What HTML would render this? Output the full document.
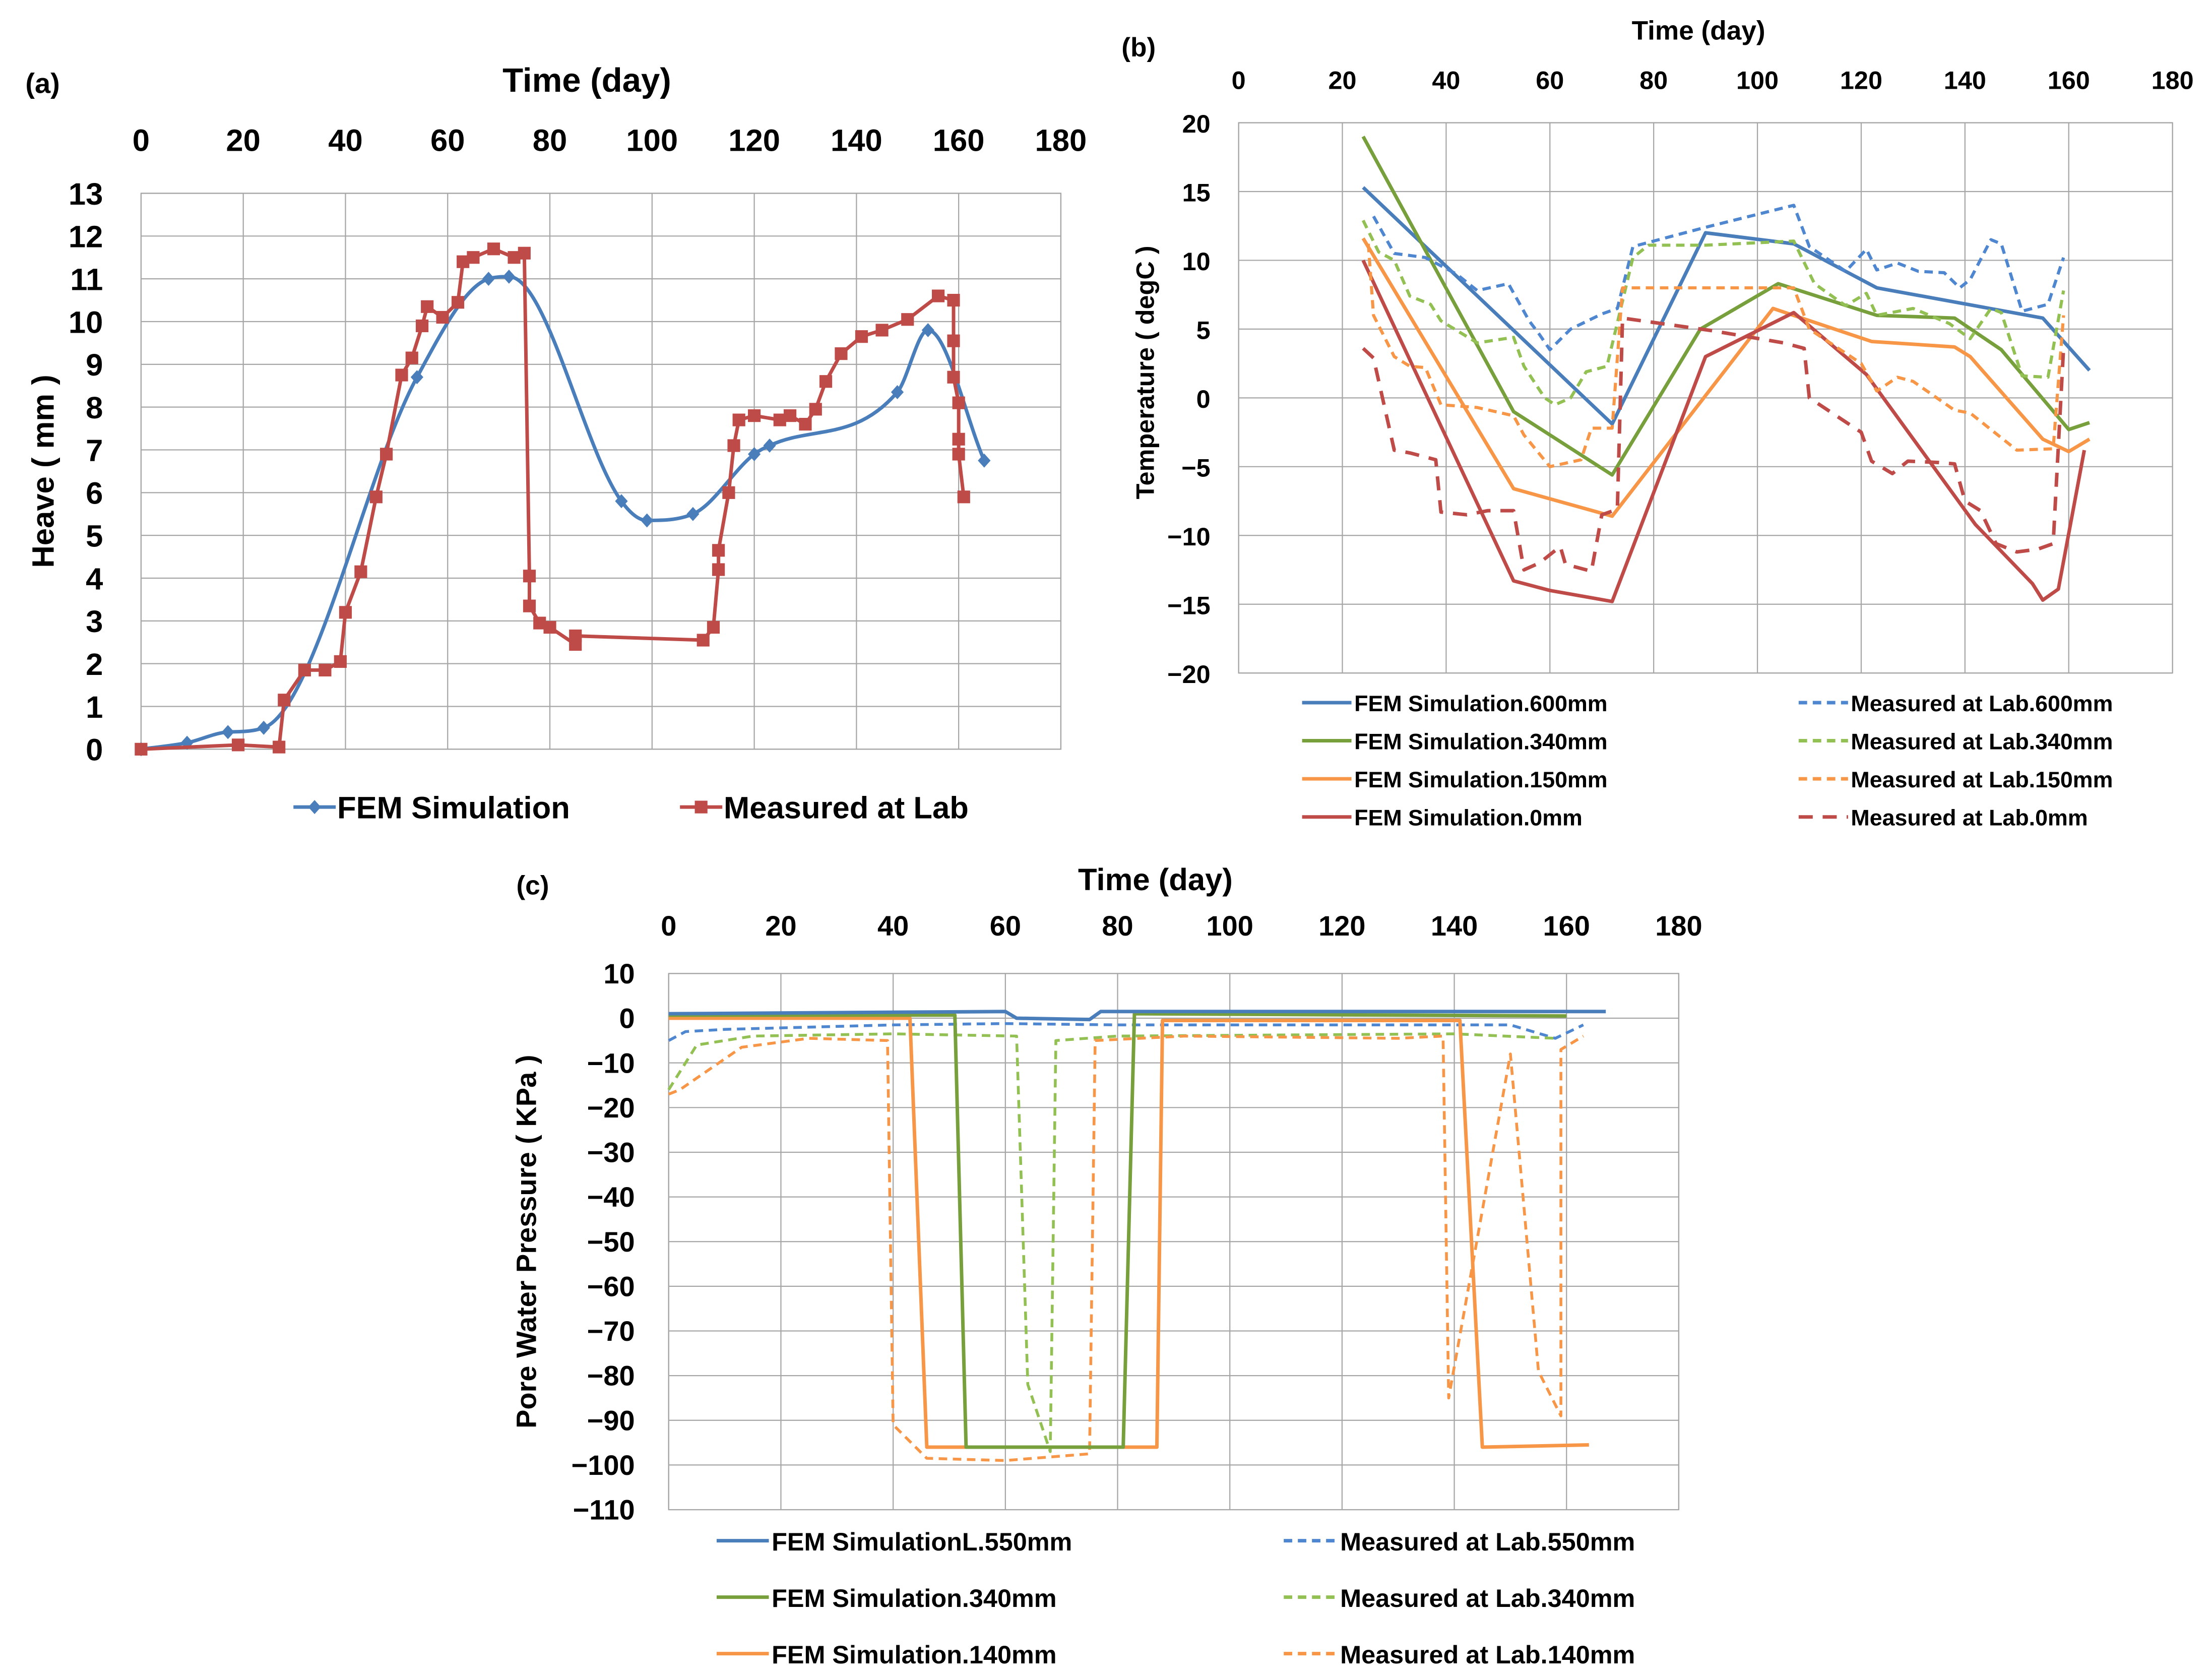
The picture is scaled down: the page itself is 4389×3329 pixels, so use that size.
<!DOCTYPE html>
<html><head><meta charset="utf-8"><style>
html,body{margin:0;padding:0;background:#fff}
svg{display:block;font-family:"Liberation Sans",sans-serif;font-weight:bold}
</style></head><body>
<svg id="fig" width="4389" height="3329" viewBox="0 0 1568 1189.3" preserveAspectRatio="none" xmlns="http://www.w3.org/2000/svg"></svg>
<script>
// ---------- Panel (a) data ----------
const aFemX=[0,9,17,24,54,68,72,94,99,108,120,123,148,154,165];
const aFemY=[0,0.15,0.4,0.5,8.7,11,11.05,5.8,5.35,5.5,6.9,7.1,8.35,9.8,6.75];
const aMeasX=[0,19,27,28,32,36,39,40,43,46,48,51,53,55,56,59,62,63,65,69,73,75,76,76,78,80,85,85,110,112,113,113,115,116,117,120,125,127,130,132,134,137,141,145,150,156,159,159,159,160,160,160,161];
const aMeasY=[0,0.1,0.05,1.15,1.85,1.85,2.05,3.2,4.15,5.9,6.9,8.75,9.15,9.9,10.35,10.1,10.45,11.4,11.5,11.7,11.5,11.6,4.05,3.35,2.95,2.85,2.45,2.65,2.55,2.85,4.2,4.65,6,7.1,7.7,7.8,7.7,7.8,7.6,7.95,8.6,9.25,9.65,9.8,10.05,10.6,10.5,9.55,8.7,8.1,7.25,6.9,5.9];
const aXTicks=[0,20,40,60,80,100,120,140,160,180];
const aYTicks=[0,1,2,3,4,5,6,7,8,9,10,11,12,13];
// ---------- Panel (b) data ----------
const bF600X=[24,72,90,107,123,155,164], bF600Y=[15.3,-1.9,12,11.2,8,5.8,2];
const bF340X=[24,53,72,89,104,123,138,147,160,164], bF340Y=[19,-1,-5.6,5,8.3,6,5.8,3.5,-2.3,-1.8];
const bF150X=[24,53,72,103,122,138,141,155,160,164], bF150Y=[11.6,-6.6,-8.6,6.5,4.1,3.7,3,-3,-3.9,-3];
const bF0X=[24,53,60,72,90,107,121,142,153,155,158,163], bF0Y=[10,-13.3,-14,-14.8,3,6.2,1.7,-9.2,-13.5,-14.7,-13.9,-3.8];
const bM600X=[26,30,36,42,46,52,56,58,60,64,70,73,76,90,107,110,117,121,123,127,131,136,139,141,145,147,151,156,159];
const bM600Y=[13.2,10.5,10.2,9,7.8,8.3,5.6,4.6,3.5,5,6.1,6.5,11,12.4,14,11,9.2,10.8,9.3,9.8,9.2,9.1,8,8.6,11.5,11.2,6.3,6.8,10.2];
const bM340X=[24,27,30,33,37,39,46,53,55,59,61,64,67,71,76,79,90,107,111,117,121,123,130,137,141,145,147,151,156,159];
const bM340Y=[12.9,10.6,10,7.4,6.8,5.6,4,4.4,2.3,0,-0.5,0,1.9,2.3,10.2,11.1,11.1,11.4,8.3,6.7,7.6,6,6.5,5.4,4.3,6.5,6.2,1.6,1.5,7.8];
const bM150X=[25,26,30,33,36,39,46,53,55,60,66,68,72,74,107,110,120,123,127,130,138,141,150,157,159];
const bM150Y=[11.2,6,3,2.3,2.2,-0.5,-0.7,-1.3,-2.7,-5,-4.5,-2.2,-2.2,8,8,5,2.5,0.5,1.5,1.2,-0.9,-1.1,-3.8,-3.7,6];
const bM0X=[24,26,30,33,38,39,44,48,53,55,58,62,63,68,70,73,74,91,105,109,110,120,122,126,129,135,138,140,143,146,150,154,157,159];
const bM0Y=[3.6,2.9,-3.8,-4,-4.5,-8.3,-8.5,-8.2,-8.2,-12.5,-12,-10.8,-12.1,-12.6,-8.5,-8.1,5.8,4.9,4,3.6,0,-2.5,-4.6,-5.5,-4.6,-4.7,-4.8,-7.5,-8.2,-10.6,-11.2,-11,-10.6,3.6];
const bXTicks=[0,20,40,60,80,100,120,140,160,180];
const bYTicks=[20,15,10,5,0,-5,-10,-15,-20];
// ---------- Panel (c) data ----------
const cF550X=[0,60,62,75,77,167], cF550Y=[1,1.5,0,-0.3,1.5,1.5];
const cF340X=[0,51,53,81,83,160], cF340Y=[0.7,0.7,-96,-96,1,0.5];
const cF140X=[0,43,46,87,88,141,145,164], cF140Y=[0,0,-96,-96,-0.5,-0.5,-96,-95.5];
const cM550X=[0,3,10,40,60,80,150,158,163], cM550Y=[-5,-3,-2.5,-1.5,-1.2,-1.5,-1.5,-4.5,-1.5];
const cM340X=[0,5,15,40,62,64,68,69,80,140,158], cM340Y=[-16,-6,-4,-3.5,-4,-82,-97,-5,-4,-3.5,-4.5];
const cM140X=[0,2,13,25,39,40,46,60,75,76,92,130,138,139,150,155,159,159,163];
const cM140Y=[-17,-16,-6.5,-4.5,-5,-91,-98.5,-99,-97.5,-5,-4,-4.5,-4,-85,-8,-79,-89,-7,-4];
const cXTicks=[0,20,40,60,80,100,120,140,160,180];
const cYTicks=[10,0,-10,-20,-30,-40,-50,-60,-70,-80,-90,-100,-110];

const NS="http://www.w3.org/2000/svg";
const svg=document.getElementById('fig');
function mk(tag,attrs,parent){const e=document.createElementNS(NS,tag);for(const k in attrs)e.setAttribute(k,attrs[k]);(parent||svg).appendChild(e);return e;}
function txt(s,x,y,size,anchor,parent,extra){const t=mk('text',Object.assign({x:x,y:y,'font-size':size,'text-anchor':anchor||'middle',fill:'#000'},extra||{}),parent);t.textContent=s;return t;}
function axis(x0,x1,xmin,xmax,y0,y1,ymin,ymax){return {sx:v=>x0+(v-xmin)/(xmax-xmin)*(x1-x0), sy:v=>y1-(v-ymin)/(ymax-ymin)*(y1-y0)};}
function grid(g,ax,xt,yt,x0,x1,y0,y1){
  const gr=mk('g',{},g);
  
  
  xt.forEach(v=>mk('line',{x1:ax.sx(v),x2:ax.sx(v),y1:y0,y2:y1,stroke:'#a6a6a6','stroke-width':0.8},gr));
  yt.forEach(v=>mk('line',{x1:x0,x2:x1,y1:ax.sy(v),y2:ax.sy(v),stroke:'#a6a6a6','stroke-width':0.8},gr));
  mk('rect',{x:x0,y:y0,width:x1-x0,height:y1-y0,fill:'none',stroke:'#a6a6a6','stroke-width':0.8},gr);
}
function pts(ax,X,Y){return X.map((x,i)=>[ax.sx(x),ax.sy(Y[i])]);}
function poly(g,ax,X,Y,color,w,dash,name){
  const p=mk('polyline',{points:pts(ax,X,Y).map(q=>q.join(',')).join(' '),fill:'none',stroke:color,'stroke-width':w,'stroke-linejoin':'round','stroke-dasharray':dash||'none'},g);
  
  
  return p;
}
// monotone cubic (Fritsch-Carlson) to avoid overshoot
function smooth(P){
  const n=P.length,d=[],m=[];
  for(let i=0;i<n-1;i++)d.push((P[i+1][1]-P[i][1])/(P[i+1][0]-P[i][0]));
  m[0]=d[0];m[n-1]=d[n-2];
  for(let i=1;i<n-1;i++){m[i]=(d[i-1]*d[i]<=0)?0:(d[i-1]+d[i])/2;}
  for(let i=0;i<n-1;i++){if(d[i]===0){m[i]=0;m[i+1]=0;continue;}const a=m[i]/d[i],b=m[i+1]/d[i],s=a*a+b*b;if(s>9){const t=3/Math.sqrt(s);m[i]=t*a*d[i];m[i+1]=t*b*d[i];}}
  let s='M'+P[0][0]+','+P[0][1];
  for(let i=0;i<n-1;i++){const h=(P[i+1][0]-P[i][0])/3;s+=` C${P[i][0]+h},${P[i][1]+m[i]*h} ${P[i+1][0]-h},${P[i+1][1]-m[i+1]*h} ${P[i+1][0]},${P[i+1][1]}`;}
  return s;
}

// ===== Panel A =====
const gA=mk('g',{});


const A=axis(100,752,0,180,137,531,0,13);
grid(gA,A,aXTicks,aYTicks,100,752,137,531);
txt('(a)',18,66,20,'start',gA);
txt('Time (day)',416,65,24,'middle',gA);
aXTicks.forEach(v=>{const t=txt(String(v),A.sx(v),107,22,'middle',gA);});
aYTicks.forEach(v=>{const t=txt(String(v),73,A.sy(v)+8,22,'end',gA);});
const aYT=txt('Heave ( mm )',0,0,22,'middle',gA,{transform:'translate(38,334) rotate(-90)'});

const femPath=mk('path',{d:smooth(pts(A,aFemX,aFemY)),fill:'none',stroke:'#4a7ebb','stroke-width':2.5},gA);


pts(A,aFemX,aFemY).forEach(p=>{const m=mk('path',{d:`M${p[0]},${p[1]-5}L${p[0]+4.5},${p[1]}L${p[0]},${p[1]+5}L${p[0]-4.5},${p[1]}Z`,fill:'#4a7ebb'},gA);});
poly(gA,A,aMeasX,aMeasY,'#be4b48',2.5,null,'measured-at-lab-line');
pts(A,aMeasX,aMeasY).forEach(p=>{const m=mk('rect',{x:p[0]-4.5,y:p[1]-4.5,width:9,height:9,fill:'#be4b48'},gA);});
const lA=mk('g',{},gA);


mk('line',{x1:208,x2:238,y1:572,y2:572,stroke:'#4a7ebb','stroke-width':2.5},lA);
mk('path',{d:'M223,567L227.5,572L223,577L218.5,572Z',fill:'#4a7ebb'},lA);
txt('FEM Simulation',239,580,22,'start',lA);
mk('line',{x1:482,x2:512,y1:572,y2:572,stroke:'#be4b48','stroke-width':2.5},lA);
mk('rect',{x:492.5,y:567.5,width:9,height:9,fill:'#be4b48'},lA);
txt('Measured at Lab',513,580,22,'start',lA);

// ===== Panel B =====
const gB=mk('g',{});


const B=axis(878,1540,0,180,87,477,-20,20);
grid(gB,B,bXTicks,bYTicks,878,1540,87,477);
txt('(b)',795,40,19,'start',gB);
txt('Time (day)',1204,28,19,'middle',gB);
bXTicks.forEach(v=>{const t=txt(String(v),B.sx(v),63,18,'middle',gB);});
bYTicks.forEach(v=>{const t=txt(v<0?'\u2212'+(-v):String(v),858,B.sy(v)+7,18,'end',gB);});
const bYT=txt('Temperature ( degC )',0,0,18,'middle',gB,{transform:'translate(818,264) rotate(-90)'});

const cBlue='#4a7ebb',cGreen='#77a03c',cOr='#f79646',cRed='#be4b48';
const cBlueL='#4f86d0',cGreenL='#92c052';
poly(gB,B,bF600X,bF600Y,cBlue,2.5,null,'fem-600mm-line');
poly(gB,B,bF340X,bF340Y,cGreen,2.5,null,'fem-340mm-line');
poly(gB,B,bF150X,bF150Y,cOr,2.5,null,'fem-150mm-line');
poly(gB,B,bF0X,bF0Y,cRed,2.5,null,'fem-0mm-line');
poly(gB,B,bM600X,bM600Y,cBlueL,2.2,'6,4','measured-600mm-line');
poly(gB,B,bM340X,bM340Y,cGreenL,2.2,'6,4','measured-340mm-line');
poly(gB,B,bM150X,bM150Y,cOr,2.2,'6,4','measured-150mm-line');
poly(gB,B,bM0X,bM0Y,cRed,2.5,'10,7','measured-0mm-line');
const lB=mk('g',{},gB);


[['FEM Simulation.600mm',cBlue,null],['FEM Simulation.340mm',cGreen,null],['FEM Simulation.150mm',cOr,null],['FEM Simulation.0mm',cRed,null]].forEach((e,i)=>{const y=498+i*27;mk('line',{x1:923,x2:958,y1:y,y2:y,stroke:e[1],'stroke-width':2.5},lB);const t=txt(e[0],960,y+6,16,'start',lB);});
[['Measured at Lab.600mm',cBlueL,'6,4'],['Measured at Lab.340mm',cGreenL,'6,4'],['Measured at Lab.150mm',cOr,'6,4'],['Measured at Lab.0mm',cRed,'10,7']].forEach((e,i)=>{const y=498+i*27;mk('line',{x1:1275,x2:1310,y1:y,y2:y,stroke:e[1],'stroke-width':2.5,'stroke-dasharray':e[2]},lB);const t=txt(e[0],1312,y+6,16,'start',lB);});

// ===== Panel C =====
const gC=mk('g',{});


const C=axis(474,1190,0,180,690,1070,-110,10);
grid(gC,C,cXTicks,cYTicks,474,1190,690,1070);
txt('(c)',366,634,19,'start',gC);
txt('Time (day)',819,631,22,'middle',gC);
cXTicks.forEach(v=>{const t=txt(String(v),C.sx(v),663,20,'middle',gC);});
cYTicks.forEach(v=>{const t=txt(v<0?'\u2212'+(-v):String(v),450,C.sy(v)+7,20,'end',gC);});
const cYT=txt('Pore Water Pressure ( KPa )',0,0,20,'middle',gC,{transform:'translate(380,880) rotate(-90)'});

poly(gC,C,cM550X,cM550Y,cBlueL,2,'6,4','measured-550mm-line');
poly(gC,C,cM340X,cM340Y,cGreenL,2,'6,4','measured-340mm-line');
poly(gC,C,cM140X,cM140Y,cOr,2,'6,4','measured-140mm-line');
poly(gC,C,cF140X,cF140Y,cOr,2.5,null,'fem-140mm-line');
poly(gC,C,cF340X,cF340Y,cGreen,2.5,null,'fem-340mm-line');
poly(gC,C,cF550X,cF550Y,cBlue,2.5,null,'fem-550mm-line');
const lC=mk('g',{},gC);


[['FEM SimulationL.550mm',cBlue],['FEM Simulation.340mm',cGreen],['FEM Simulation.140mm',cOr]].forEach((e,i)=>{const y=1092+i*40;mk('line',{x1:508,x2:545,y1:y,y2:y,stroke:e[1],'stroke-width':2.5},lC);const t=txt(e[0],547,y+7,18,'start',lC);});
[['Measured at Lab.550mm',cBlueL],['Measured at Lab.340mm',cGreenL],['Measured at Lab.140mm',cOr]].forEach((e,i)=>{const y=1092+i*40;mk('line',{x1:910,x2:948,y1:y,y2:y,stroke:e[1],'stroke-width':2.5,'stroke-dasharray':'6,4'},lC);const t=txt(e[0],950,y+7,18,'start',lC);});
</script>
</body></html>
